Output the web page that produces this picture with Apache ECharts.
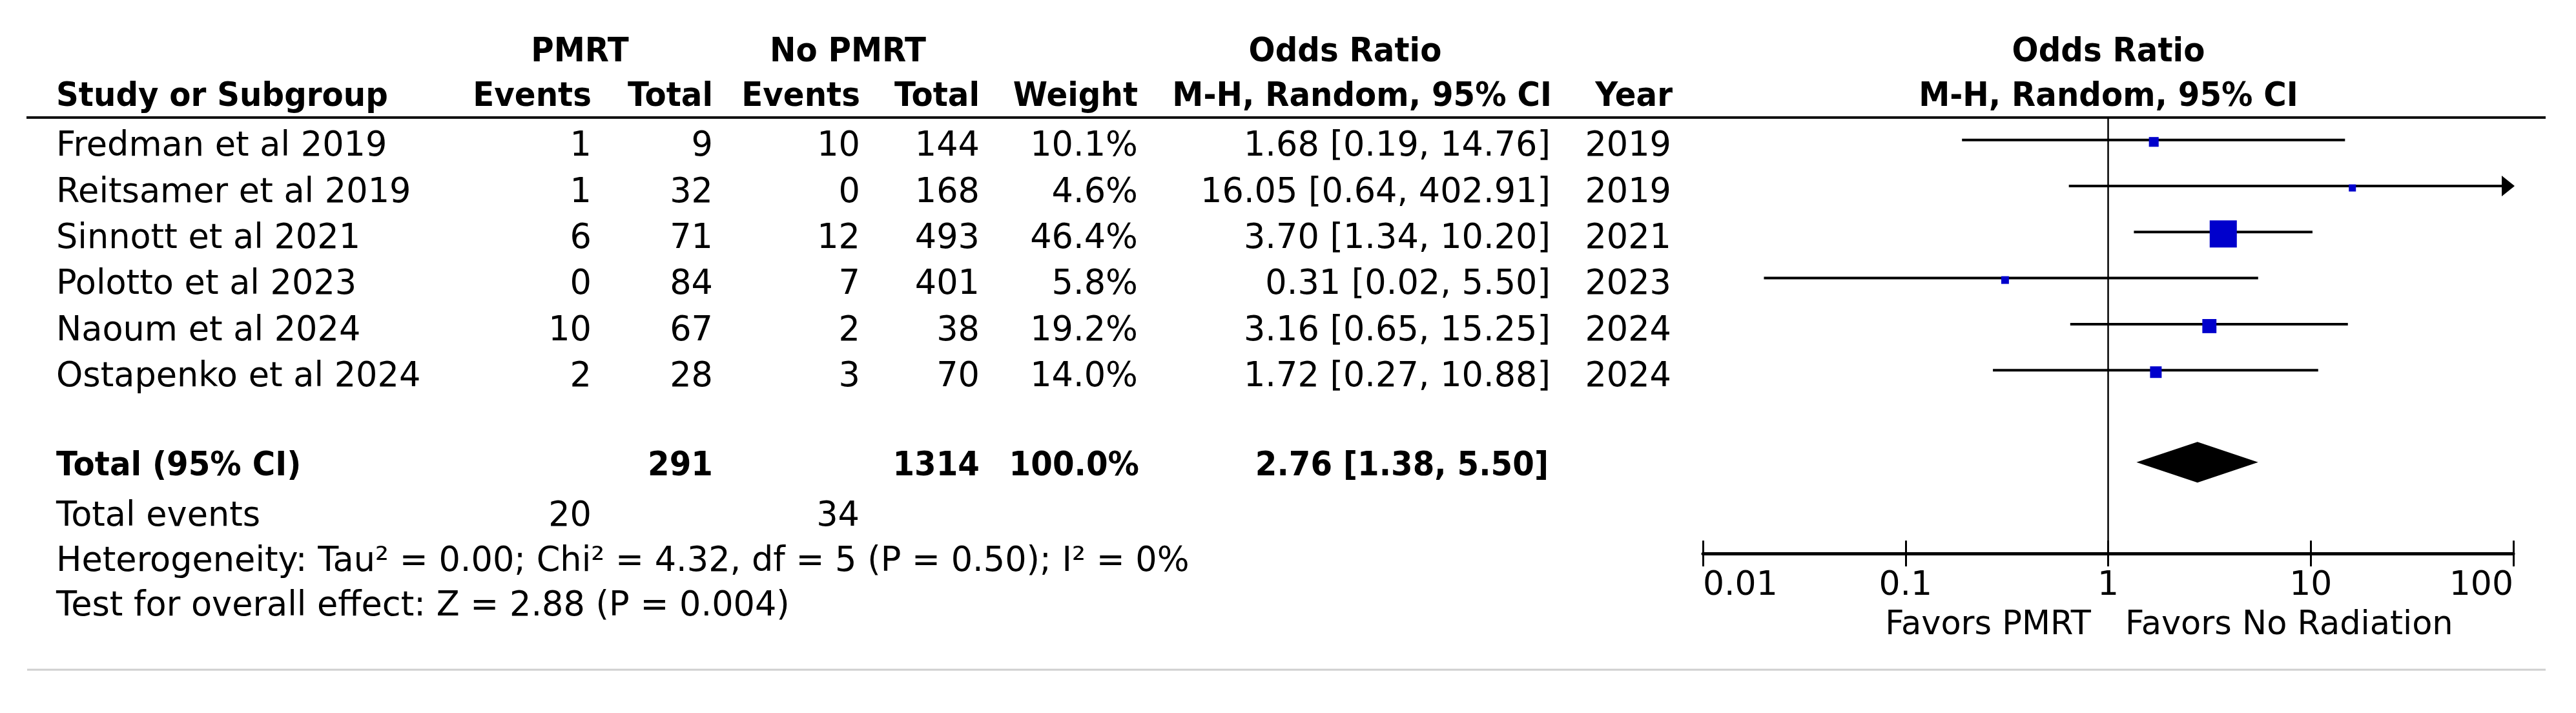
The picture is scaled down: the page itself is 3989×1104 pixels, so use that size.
<!DOCTYPE html>
<html><head><meta charset="utf-8">
<script src="https://cdn.jsdelivr.net/npm/echarts@6/dist/echarts.min.js"></script>
<style>html,body{margin:0;padding:0;background:#fff}#c{width:3989px;height:1104px}</style>
</head><body><div id="c"></div>
<script>
// ---------- data ----------
const studies = ['Fredman et al 2019','Reitsamer et al 2019','Sinnott et al 2021','Polotto et al 2023','Naoum et al 2024','Ostapenko et al 2024'];
const pmrtEvents = [1, 1, 6, 0, 10, 2];
const pmrtTotal = [9, 32, 71, 84, 67, 28];
const noEvents = [10, 0, 12, 7, 2, 3];
const noTotal = [144, 168, 493, 401, 38, 70];
const weights = [10.1, 4.6, 46.4, 5.8, 19.2, 14.0];
const orVal = [1.68, 16.05, 3.70, 0.31, 3.16, 1.72];
const ciLow = [0.19, 0.64, 1.34, 0.02, 0.65, 0.27];
const ciHigh = [14.76, 402.91, 10.20, 5.50, 15.25, 10.88];
const years = [2019, 2019, 2021, 2023, 2024, 2024];
const totalPmrt = 291, totalNo = 1314, totalWeight = 100.0;
const totalOR = 2.76, totalLow = 1.38, totalHigh = 5.50;
const eventsPmrt = 20, eventsNo = 34;
const heterogeneityText = 'Heterogeneity: Tau\u00b2 = 0.00; Chi\u00b2 = 4.32, df = 5 (P = 0.50); I\u00b2 = 0%';
const overallText = 'Test for overall effect: Z = 2.88 (P = 0.004)';
const tickLabels = ['0.01', '0.1', '1', '10', '100'];
const favorsLeft = 'Favors PMRT', favorsRight = 'Favors No Radiation';

// ---------- layout ----------
const FF = '"DejaVu Sans", Verdana, sans-serif';
const FS = 52.5;
const BOLD_SX = 0.93;
const COL = {name: 87, pe: 916, pt: 1104, ne: 1332, nt: 1517, w: 1762, or: 2401, yr: 2588};
const TOTAL_ROW = 7;
function txt(x, y, s, align, bold, size) {
  return {type: 'text', x: x, y: y, silent: true, scaleX: bold ? BOLD_SX : 1,
    style: {text: s, fill: '#000', fontSize: size || (bold ? 52 : FS), fontFamily: FF,
      fontWeight: bold ? 'bold' : 'normal', align: align, verticalAlign: 'middle'}};
}
const f2 = v => v.toFixed(2);

const chart = echarts.init(document.getElementById('c'), null, {renderer: 'canvas'});
const axisCommon = {type: 'log', logBase: 10, min: 0.01, max: 100, gridIndex: 0, position: 'bottom', splitLine: {show: false}};

chart.setOption({
  animation: false,
  backgroundColor: '#fff',
  grid: [{left: 2637, top: 182, width: 1255, height: 675}],
  xAxis: [
    Object.assign({}, axisCommon, {
      axisLine: {show: true, onZero: false, lineStyle: {color: '#000', width: 5}},
      axisTick: {show: true, inside: false, length: 20, lineStyle: {color: '#000', width: 3}},
      axisLabel: {show: true, margin: 24, color: '#000', fontSize: 52, fontFamily: FF,
        alignMinLabel: 'left', alignMaxLabel: 'right',
        formatter: v => tickLabels[Math.round(Math.log10(v)) + 2]}
    }),
    Object.assign({}, axisCommon, {
      axisLine: {show: false, onZero: false},
      axisTick: {show: true, inside: true, length: 20, lineStyle: {color: '#000', width: 3}},
      axisLabel: {show: false}
    })
  ],
  yAxis: [{type: 'value', gridIndex: 0, inverse: true, min: -0.487, max: 8.98, show: false}],
  graphic: [
    {type: 'line', silent: true, shape: {x1: 41, y1: 182, x2: 3942, y2: 182}, style: {stroke: '#111', lineWidth: 4}},
    {type: 'line', silent: true, shape: {x1: 42, y1: 1037, x2: 3942, y2: 1037}, style: {stroke: '#cfcfcf', lineWidth: 3}},
    txt(3238, 969, favorsLeft, 'right', false, 51),
    txt(3291, 969, favorsRight, 'left', false, 51)
  ],
  series: [
    // confidence intervals
    {
      type: 'custom', xAxisIndex: 0, yAxisIndex: 0, silent: true, clip: false,
      data: studies.map((s, i) => [ciLow[i], ciHigh[i], i]),
      encode: {x: [0, 1], y: 2},
      renderItem: (params, api) => {
        const lo = api.value(0), hi = api.value(1), row = api.value(2);
        const p1 = api.coord([Math.max(lo, 0.01), row]);
        const p2 = api.coord([Math.min(hi, 100), row]);
        const ch = [{type: 'line', shape: {x1: p1[0], y1: p1[1], x2: p2[0], y2: p2[1]}, style: {stroke: '#000', lineWidth: 4}}];
        if (hi > 100) ch.push({type: 'polygon', shape: {points: [[p2[0] + 2, p2[1]], [p2[0] - 18, p2[1] - 16], [p2[0] - 18, p2[1] + 16]]}, style: {fill: '#000'}});
        if (lo < 0.01) ch.push({type: 'polygon', shape: {points: [[p1[0] - 2, p1[1]], [p1[0] + 18, p1[1] - 16], [p1[0] + 18, p1[1] + 16]]}, style: {fill: '#000'}});
        return {type: 'group', children: ch};
      },
      markLine: {silent: true, symbol: 'none', label: {show: false},
        lineStyle: {color: '#000', width: 2.5, type: 'solid'}, data: [{xAxis: 1}]}
    },
    // study point estimates
    {
      type: 'scatter', xAxisIndex: 0, yAxisIndex: 0, silent: true,
      symbol: 'rect', symbolOffset: [0, 3],
      symbolSize: v => 7.6 + 0.742 * v[2],
      itemStyle: {color: '#0000cc', opacity: 1},
      data: orVal.map((v, i) => [v, i, weights[i]])
    },
    // pooled diamond
    {
      type: 'custom', xAxisIndex: 0, yAxisIndex: 0, silent: true, clip: false,
      data: [[totalLow, totalOR, totalHigh, TOTAL_ROW]],
      encode: {x: [0, 1, 2], y: 3},
      renderItem: (params, api) => {
        const row = api.value(3);
        const a = api.coord([api.value(0), row]), m = api.coord([api.value(1), row]), b = api.coord([api.value(2), row]);
        return {type: 'polygon', shape: {points: [[a[0], a[1]], [m[0], m[1] - 31.5], [b[0], b[1]], [m[0], m[1] + 31.5]]}, style: {fill: '#000'}};
      }
    },
    // study table rows
    {
      type: 'custom', xAxisIndex: 0, yAxisIndex: 0, silent: true, clip: false,
      data: studies.map((s, i) => [1, i]),
      encode: {x: 0, y: 1},
      renderItem: (params, api) => {
        const i = params.dataIndex;
        const y = api.coord([1, api.value(1)])[1] + 11;
        return {type: 'group', children: [
          txt(COL.name, y, studies[i], 'left'),
          txt(COL.pe, y, String(pmrtEvents[i]), 'right'),
          txt(COL.pt, y, String(pmrtTotal[i]), 'right'),
          txt(COL.ne, y, String(noEvents[i]), 'right'),
          txt(COL.nt, y, String(noTotal[i]), 'right'),
          txt(COL.w, y, weights[i].toFixed(1) + '%', 'right'),
          txt(COL.or, y, f2(orVal[i]) + ' [' + f2(ciLow[i]) + ', ' + f2(ciHigh[i]) + ']', 'right'),
          txt(COL.yr, y, String(years[i]), 'right')
        ]};
      }
    },
    // headers, total and footer rows
    {
      type: 'custom', xAxisIndex: 0, yAxisIndex: 0, silent: true, clip: false,
      data: [[1, TOTAL_ROW]],
      encode: {x: 0, y: 1},
      renderItem: (params, api) => {
        const rowY = r => api.coord([1, r])[1];
        const h1 = rowY(-2) + 7, h2 = rowY(-1) + 5;
        const yt = rowY(api.value(1)) + 7;
        const ye = rowY(8) + 13, yh = rowY(9) + 12, yo = rowY(10) + 10;
        return {type: 'group', children: [
          txt(898, h1, 'PMRT', 'center', true),
          txt(1313, h1, 'No PMRT', 'center', true),
          txt(2083, h1, 'Odds Ratio', 'center', true),
          txt(3265, h1, 'Odds Ratio', 'center', true),
          txt(COL.name, h2, 'Study or Subgroup', 'left', true),
          txt(COL.pe, h2, 'Events', 'right', true),
          txt(COL.pt, h2, 'Total', 'right', true),
          txt(COL.ne, h2, 'Events', 'right', true),
          txt(COL.nt, h2, 'Total', 'right', true),
          txt(COL.w, h2, 'Weight', 'right', true),
          txt(2403, h2, 'M-H, Random, 95% CI', 'right', true),
          txt(2590, h2, 'Year', 'right', true),
          txt(3265, h2, 'M-H, Random, 95% CI', 'center', true),
          txt(COL.name, yt, 'Total (95% CI)', 'left', true),
          txt(COL.pt, yt, String(totalPmrt), 'right', true),
          txt(COL.nt, yt, String(totalNo), 'right', true),
          txt(1764, yt, totalWeight.toFixed(1) + '%', 'right', true),
          txt(2398, yt, f2(totalOR) + ' [' + f2(totalLow) + ', ' + f2(totalHigh) + ']', 'right', true),
          txt(COL.name, ye, 'Total events', 'left'),
          txt(COL.pe, ye, String(eventsPmrt), 'right'),
          txt(1331, ye, String(eventsNo), 'right'),
          txt(COL.name, yh, heterogeneityText, 'left'),
          txt(COL.name, yo, overallText, 'left')
        ]};
      }
    }
  ]
});
</script></body></html>
